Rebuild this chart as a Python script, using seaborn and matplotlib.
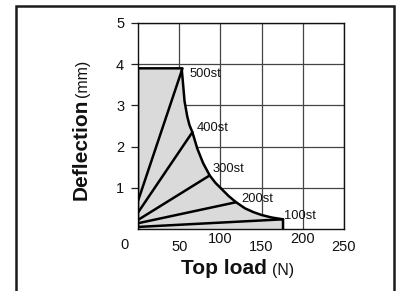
import pandas as pd
import matplotlib
matplotlib.use('Agg')
import matplotlib.pyplot as plt
import matplotlib.patches as patches
import seaborn as sns

# stroke lines: start on the left axis, end on the limit curve
strokes = ['100st', '200st', '300st', '400st', '500st']
stroke_start = [0.05, 0.14, 0.22, 0.40, 0.68]
stroke_end_load = [176, 119, 87, 66, 54]
stroke_end_defl = [0.235, 0.65, 1.30, 2.35, 3.9]
label_load = [177, 125, 91, 71, 63]
label_defl = [0.32, 0.73, 1.46, 2.45, 3.76]

# limit curve
curve_load = [0, 0, 53, 54.6, 56.5, 59.8, 62.5, 66, 72, 79, 87, 94, 100, 110,
              119, 130, 140, 150, 162, 176, 176]
curve_defl = [0, 3.9, 3.9, 3.54, 3.1, 2.73, 2.52, 2.35, 1.95, 1.6, 1.30, 1.12,
              1.0, 0.8, 0.65, 0.5, 0.41, 0.34, 0.28, 0.235, 0]

xticks = [50, 100, 150, 200, 250]
xtick_labels = ['50', '100', '150', '200', '250']
yticks = [1, 2, 3, 4, 5]

rows = []
for name, y0, xe, ye in zip(strokes, stroke_start, stroke_end_load, stroke_end_defl):
    rows.append({'stroke': name, 'load': 0, 'defl': y0})
    rows.append({'stroke': name, 'load': xe, 'defl': ye})
df = pd.DataFrame(rows)

sns.set_theme(style='white')
plt.rcParams['font.family'] = ['Liberation Sans', 'DejaVu Sans']

fig = plt.figure(figsize=(4.02, 2.91), dpi=100)
ax = fig.add_axes([138 / 402, 1 - 229 / 291, 206 / 402, 206 / 291])

ax.fill(curve_load, curve_defl, color='#dadada', lw=0, zorder=1)
sns.lineplot(x=curve_load, y=curve_defl, sort=False, estimator=None,
             color='black', lw=1.8, ax=ax, zorder=4)
sns.lineplot(data=df, x='load', y='defl', units='stroke', estimator=None,
             color='black', lw=1.8, ax=ax, zorder=4)

for name, lx, ly in zip(strokes, label_load, label_defl):
    ax.text(lx, ly, name, fontsize=9.3, ha='left', va='center', color='#111')

ax.set_xlim(0, 250)
ax.set_ylim(0, 5)
ax.set_xticks(xticks)
ax.set_xticklabels([])
ax.set_yticks(yticks)
ax.set_yticklabels([str(v) for v in yticks], fontsize=10.5, color='#111')
ax.tick_params(axis='y', length=5, pad=5, width=0.9, color='#222', left=True)
ax.tick_params(axis='x', length=0)
ax.grid(True, color='#444', lw=0.9, zorder=0)
ax.set_axisbelow(True)
for s in ax.spines.values():
    s.set_color('#111')
    s.set_linewidth(1.0)
ax.set_xlabel('')
ax.set_ylabel('')

# staggered x tick labels and shared origin label
xt = ax.get_xaxis_transform()
for v, lab in zip(xticks, xtick_labels):
    yy = -0.049 if lab in ('100', '200') else -0.087
    ax.text(v, yy, lab, transform=xt, ha='center', va='center', fontsize=10.5, color='#111')
ax.text(-16.4, -0.078, '0', transform=xt, ha='center', va='center', fontsize=10.5, color='#111')

# axis titles: bold word + unit in regular weight
fig.text(87 / 402, 1 - 200 / 291, 'Deflection', rotation=90, rotation_mode='anchor',
         ha='left', va='baseline', fontsize=15, fontweight='bold', color='#111')
fig.text(87 / 402, 1 - 97 / 291, '(mm)', rotation=90, rotation_mode='anchor',
         ha='left', va='baseline', fontsize=11.5, color='#111')
fig.text(181 / 402, 1 - 274.5 / 291, 'Top load', ha='left', va='baseline',
         fontsize=15, fontweight='bold', color='#111')
fig.text(272 / 402, 1 - 274.5 / 291, '(N)', ha='left', va='baseline',
         fontsize=11.5, color='#111')

# outer frame, bottom edge cut off
frame = patches.Rectangle((16.2 / 402, -0.1), (393.8 - 16.2) / 402, 1.1 - 6.2 / 291,
                          transform=fig.transFigure, fill=False, lw=1.8,
                          edgecolor='#1a1a1a', clip_on=False)
fig.patches.append(frame)

fig.savefig('out.png', dpi=100)
